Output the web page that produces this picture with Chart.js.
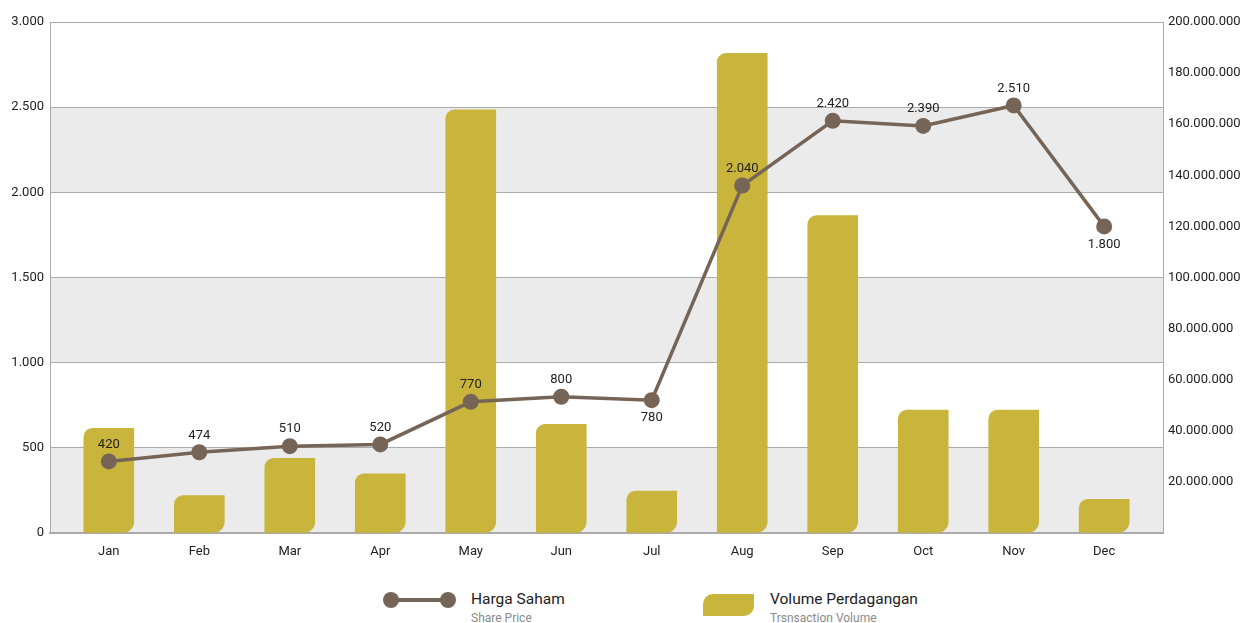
<!DOCTYPE html>
<html>
<head>
<meta charset="utf-8">
<script src="https://cdn.jsdelivr.net/npm/chart.js@4.4.1/dist/chart.umd.min.js"></script>
<style>
  body { margin: 0; background: #fff; font-family: Roboto, "Noto Sans", sans-serif; }
  #wrap { position: relative; width: 1244px; height: 623px; overflow: hidden; }
  #chart { position: absolute; left: 0; top: 0; }
  .lg { position: absolute; white-space: nowrap; line-height: 1; }
  .lg-title { font-size: 15.5px; color: #222; }
  .lg-sub { font-size: 12px; color: #8a8a8a; }
  .dot { position: absolute; width: 16px; height: 16px; border-radius: 50%; background: #766557; }
</style>
</head>
<body>
<div id="wrap">
  <canvas id="chart" width="1244" height="570"></canvas>

  <!-- legend: line -->
  <div class="lg" style="left:391px; top:598px; width:57px; height:4px; background:#766557;"></div>
  <div class="dot" style="left:383px; top:592px;"></div>
  <div class="dot" style="left:440px; top:592px;"></div>
  <div class="lg lg-title" style="left:471px; top:592px;">Harga Saham</div>
  <div class="lg lg-sub" style="left:471px; top:612px;">Share Price</div>

  <!-- legend: bar -->
  <div class="lg" style="left:703px; top:594px; width:51px; height:22px; background:#c9b53b; border-radius:10px 0 10px 0;"></div>
  <div class="lg lg-title" style="left:770px; top:592px;">Volume Perdagangan</div>
  <div class="lg lg-sub" style="left:770px; top:612px;">Trsnsaction Volume</div>
</div>

<script>
const months = ['Jan', 'Feb', 'Mar', 'Apr', 'May', 'Jun', 'Jul', 'Aug', 'Sep', 'Oct', 'Nov', 'Dec'];
const sharePrice = [420, 474, 510, 520, 770, 800, 780, 2040, 2420, 2390, 2510, 1800];
const volume = [41000000, 14600000, 29200000, 23200000, 165600000, 42500000, 16400000,
                187700000, 124200000, 48100000, 48100000, 13200000];
// months whose price label sits under the point
const labelBelow = [6, 11];

const LINE = '#766557';
const BAR = '#c9b53b';
const GRID = '#aaaaaa';

function fmt(v) {
    return String(v).replace(/\B(?=(\d{3})+(?!\d))/g, '.');
}

// gray bands behind the grid
const bandPlugin = {
    id: 'bands',
    beforeDraw(chart) {
        const { ctx, chartArea, scales } = chart;
        const y = scales.y;
        ctx.save();
        ctx.fillStyle = '#ebebeb';
        for (let v = 0; v < 3000; v += 1000) {
            const top = y.getPixelForValue(v + 500);
            const bottom = y.getPixelForValue(v);
            ctx.fillRect(chartArea.left, top, chartArea.right - chartArea.left, bottom - top);
        }
        ctx.restore();
    }
};

// value labels on the price line
const priceLabels = {
    id: 'priceLabels',
    afterDatasetsDraw(chart) {
        const { ctx } = chart;
        const meta = chart.getDatasetMeta(1);
        ctx.save();
        ctx.font = '13px Roboto';
        ctx.fillStyle = '#222';
        ctx.textAlign = 'center';
        ctx.textBaseline = 'middle';
        meta.data.forEach((pt, i) => {
            const dy = labelBelow.includes(i) ? 18 : -17;
            ctx.fillText(fmt(sharePrice[i]), pt.x, pt.y + dy);
        });
        ctx.restore();
    }
};

const ctx = document.getElementById('chart').getContext('2d');
new Chart(ctx, {
    data: {
        datasets: [{
            type: 'bar',
            label: 'Volume Perdagangan',
            data: volume.map((v, i) => ({ x: i, y: v })),
            yAxisID: 'y1',
            backgroundColor: BAR,
            barThickness: 50,
            borderSkipped: false,
            borderRadius: { topLeft: 9, topRight: 0, bottomLeft: 0, bottomRight: 11 },
            order: 1
        }, {
            type: 'line',
            label: 'Harga Saham',
            data: sharePrice.map((v, i) => ({ x: i, y: v })),
            yAxisID: 'y',
            borderColor: LINE,
            borderWidth: 3.5,
            pointRadius: 8,
            pointBackgroundColor: LINE,
            pointBorderWidth: 0,
            tension: 0,
            order: 0
        }]
    },
    options: {
        responsive: false,
        animation: false,
        layout: { padding: { top: 22, left: 0, right: 0, bottom: 0 } },
        plugins: {
            legend: { display: false },
            tooltip: { enabled: false }
        },
        scales: {
            x: {
                type: 'linear',
                min: -0.65,
                max: 11.65,
                offset: false,
                grid: { display: false, drawTicks: false, offset: false },
                border: { color: GRID, width: 2 },
                ticks: {
                    stepSize: 1,
                    autoSkip: false,
                    maxRotation: 0,
                    padding: 11,
                    color: '#222',
                    font: { family: 'Roboto', size: 13 },
                    callback: (v) => Number.isInteger(v) ? months[v] : ''
                },
                afterFit(scale) { scale.height = 37; }
            },
            y: {
                position: 'left',
                min: 0,
                max: 3000,
                grid: { color: GRID, drawTicks: false },
                border: { color: GRID },
                ticks: {
                    stepSize: 500,
                    padding: 6,
                    color: '#222',
                    font: { family: 'Roboto', size: 13 },
                    callback: (v) => fmt(v)
                },
                afterFit(scale) { scale.width = 50; }
            },
            y1: {
                position: 'right',
                min: 0,
                max: 200000000,
                grid: { drawOnChartArea: false, drawTicks: false },
                border: { color: GRID },
                ticks: {
                    stepSize: 20000000,
                    padding: 5,
                    color: '#222',
                    font: { family: 'Roboto', size: 13 },
                    callback: (v) => v === 0 ? '' : fmt(v)
                },
                afterFit(scale) { scale.width = 81; }
            }
        }
    },
    plugins: [bandPlugin, priceLabels]
});
</script>
</body>
</html>
